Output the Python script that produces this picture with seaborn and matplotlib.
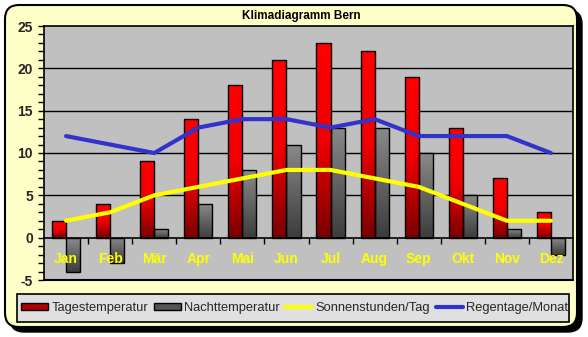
import numpy as np
import pandas as pd
import matplotlib
matplotlib.use("Agg")
import matplotlib.pyplot as plt
import seaborn as sns
from matplotlib.patches import FancyBboxPatch, Patch, Rectangle
from matplotlib.lines import Line2D
from matplotlib.colors import LinearSegmentedColormap
from matplotlib.transforms import IdentityTransform
from matplotlib.ticker import MultipleLocator, FixedLocator

# ---- data ----
months = ["Jan", "Feb", "Mär", "Apr", "Mai", "Jun", "Jul", "Aug", "Sep", "Okt", "Nov", "Dez"]
tagestemperatur = [2, 4, 9, 14, 18, 21, 23, 22, 19, 13, 7, 3]
nachttemperatur = [-4, -3, 1, 4, 8, 11, 13, 13, 10, 5, 1, -2]
sonnenstunden = [2, 3, 5, 6, 7, 8, 8, 7, 6, 4, 2, 2]
regentage = [12, 11, 10, 13, 14, 14, 13, 14, 12, 12, 12, 10]
y_ticks = [-5, 0, 5, 10, 15, 20, 25]
grid_levels = [5, 10, 15, 20]
title = "Klimadiagramm Bern"
series_names = ["Tagestemperatur", "Nachttemperatur", "Sonnenstunden/Tag", "Regentage/Monat"]

df = pd.DataFrame({
    "Monat": months * 2,
    "Wert": tagestemperatur + nachttemperatur,
    "Serie": [series_names[0]] * 12 + [series_names[1]] * 12,
})

sns.set_theme(style="white")
plt.rcParams["font.family"] = ["Liberation Sans", "DejaVu Sans"]
plt.rcParams["axes.unicode_minus"] = False

W, H = 588, 337
fig = plt.figure(figsize=(W / 100, H / 100), dpi=100)
fig.patch.set_facecolor("white")

# card with shadow (pixel coordinates, origin bottom-left)
card_x0, card_y0, card_w, card_h = 5, 10, 572, 322
shadow = FancyBboxPatch((card_x0 + 5, card_y0 - 5), card_w, card_h,
                        boxstyle="round,pad=0,rounding_size=14",
                        transform=IdentityTransform(), facecolor="black",
                        edgecolor="black", lw=1, zorder=-3)
card = FancyBboxPatch((card_x0, card_y0), card_w, card_h,
                      boxstyle="round,pad=0,rounding_size=14",
                      transform=IdentityTransform(), facecolor="#FFFFC8",
                      edgecolor="black", lw=1.5, zorder=-2)
legend_box = Rectangle((17, 15), 552, 28, transform=IdentityTransform(),
                       facecolor="#E0E0E0", edgecolor="black", lw=1.2, zorder=-1)
fig.add_artist(shadow)
fig.add_artist(card)
fig.add_artist(legend_box)

ax = fig.add_axes([44 / W, 57 / H, 529 / W, 254 / H])
ax.set_facecolor("#C0C0C0")
ax.set_axisbelow(False)

sns.barplot(data=df, x="Monat", y="Wert", hue="Serie",
            palette=["#D00000", "#606060"], width=0.64, dodge=True,
            edgecolor="black", linewidth=1.0, legend=False, ax=ax, zorder=2)

ax.set_xlim(-0.5, 11.5)
ax.set_ylim(-5, 25)

# gradient fills
red_cmap = LinearSegmentedColormap.from_list("r", ["#FF0000", "#F00000", "#780000"])
gray_cmap = LinearSegmentedColormap.from_list("g", ["#8A8A8A", "#3C3C3C"])
grad = np.linspace(0, 1, 256).reshape(-1, 1)
bars = [p for p in ax.patches]
for i, p in enumerate(bars):
    bb = p.get_bbox()
    x0, x1 = bb.x0, bb.x1
    y0, y1 = min(bb.y0, bb.y1), max(bb.y0, bb.y1)
    if y1 - y0 <= 0:
        continue
    cmap = red_cmap if i < 12 else gray_cmap
    im = ax.imshow(grad, cmap=cmap, aspect="auto", origin="upper",
                   extent=(x0, x1, y0, y1), zorder=2.0, interpolation="bilinear")
    im.set_clip_path(p)
    p.set_facecolor("none")
    p.set_zorder(2.1)

ax.set_xlim(-0.5, 11.5)
ax.set_ylim(-5, 25)

# lines
xs = np.arange(len(months))
sns.lineplot(x=xs, y=sonnenstunden, color="#FFFF00", lw=3, ax=ax, zorder=3, sort=False)
sns.lineplot(x=xs, y=regentage, color="#3333CC", lw=3, ax=ax, zorder=3.1, sort=False)

# grid lines behind bars
ax.grid(False)
for g in grid_levels:
    ax.axhline(g, color="black", lw=1.0, zorder=0.5)

for s in ax.spines.values():
    s.set_color("black")
    s.set_linewidth(1.2)
ax.spines["bottom"].set_position(("data", 0))
ax.spines["bottom"].set_zorder(2.2)
ax.axhline(-5, color="black", lw=1.5, clip_on=False, zorder=5)

ax.yaxis.set_major_locator(FixedLocator(y_ticks))
ax.yaxis.set_minor_locator(MultipleLocator(1))
ax.set_xticks(xs)
ax.set_xticklabels(months)
ax.set_xticks(np.arange(0.5, 11, 1), minor=True)
ax.tick_params(axis="x", which="major", length=0, pad=10, labelsize=10,
               labelcolor="#FFFF00")
ax.tick_params(axis="x", which="minor", length=4, width=1, color="black",
               direction="out", bottom=True)
for t in ax.get_xticklabels():
    t.set_fontweight("bold")
ax.tick_params(axis="y", which="both", length=4, width=1, color="black",
               direction="out", left=True, labelsize=10, pad=4)
for t in ax.get_yticklabels():
    t.set_fontweight("bold")
ax.set_xlabel("")
ax.set_ylabel("")

fig.text(301 / W, 1 - 15.5 / H, title, ha="center", va="center",
         fontsize=8.5, fontweight="bold", color="black")

handles = [
    Patch(facecolor="#B00000", edgecolor="black", lw=1),
    Patch(facecolor="#555555", edgecolor="black", lw=1),
    Line2D([0], [0], color="#FFFF00", lw=3),
    Line2D([0], [0], color="#3333CC", lw=3),
]
leg = fig.legend(handles, series_names, ncol=4, mode="expand",
                 loc="center", bbox_to_anchor=(21 / W, 15 / H, 547 / W, 28 / H),
                 fontsize=9.3, frameon=False, borderpad=0,
                 handlelength=2.1, handleheight=0.55, handletextpad=0.25,
                 columnspacing=0.4, borderaxespad=0)

fig.savefig("out.png", dpi=100)
